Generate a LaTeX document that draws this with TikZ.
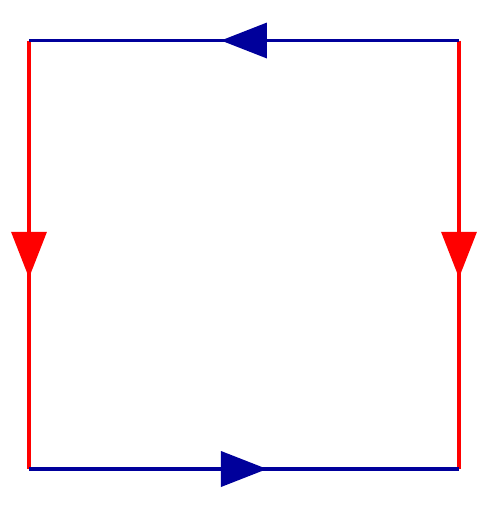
\documentclass[tikz,border=0pt]{standalone}
\usetikzlibrary{calc}
\definecolor{dblue}{RGB}{0,0,155}
\definecolor{dred}{RGB}{255,0,0}
\begin{document}
\begin{tikzpicture}[x=0.02cm,y=-0.02cm,
  edge/.style={line width=0.075cm},
  tri/.style={fill}]
\useasboundingbox (0,0) rectangle (489,512);
\coordinate (tl) at (29,40.5);
\coordinate (tr) at (459,40.5);
\coordinate (br) at (459,469);
\coordinate (bl) at (29,469);
% red verticals
\draw[edge,dred] (tl) -- (bl);
\draw[edge,dred] (tr) -- (br);
% blue horizontals
\draw[edge,dblue] (tr) -- (tl);
\draw[edge,dblue] (bl) -- (br);
% arrowheads
\coordinate (mt) at ($(tl)!0.5!(tr)$);
\coordinate (mb) at ($(bl)!0.5!(br)$);
\coordinate (ml) at ($(tl)!0.5!(bl)$);
\coordinate (mr) at ($(tr)!0.5!(br)$);
\fill[dblue] ($(mt)+(-23,0)$) -- ($(mt)+(23,-18)$) -- ($(mt)+(23,18)$) -- cycle;
\fill[dblue] ($(mb)+(23,0)$) -- ($(mb)+(-23,-18)$) -- ($(mb)+(-23,18)$) -- cycle;
\fill[dred] ($(ml)+(0,23)$) -- ($(ml)+(-18,-23)$) -- ($(ml)+(18,-23)$) -- cycle;
\fill[dred] ($(mr)+(0,23)$) -- ($(mr)+(-18,-23)$) -- ($(mr)+(18,-23)$) -- cycle;
\end{tikzpicture}
\end{document}
